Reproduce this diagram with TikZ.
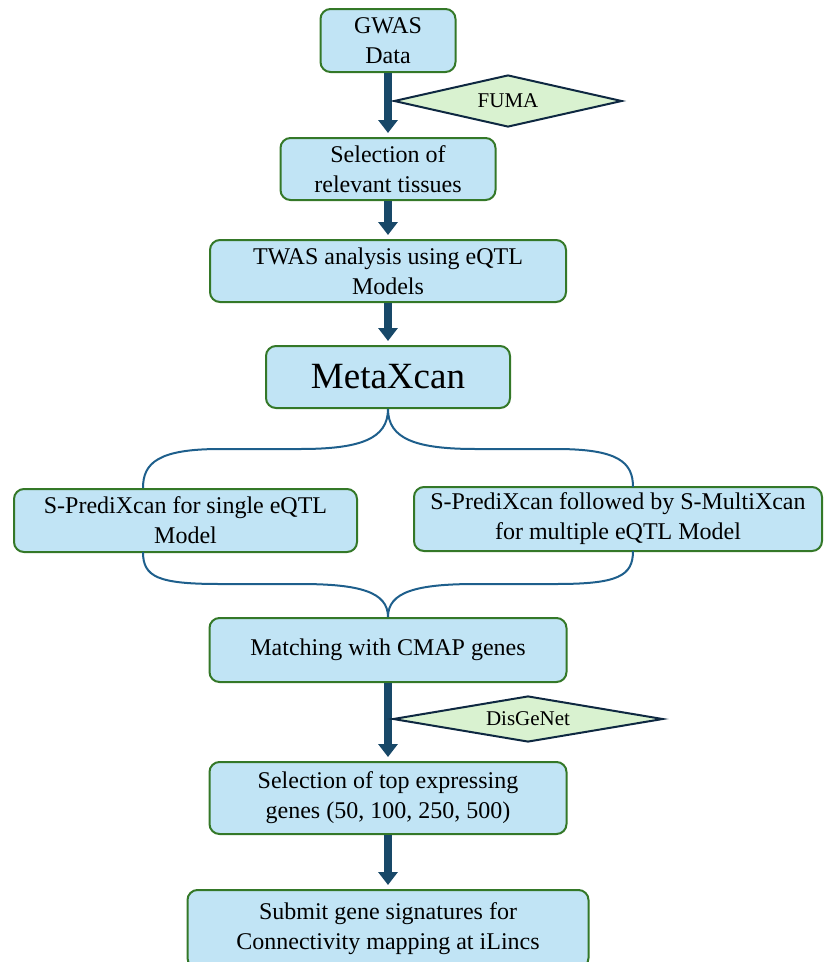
\documentclass[tikz,border=0pt]{standalone}
\usepackage{fontspec}
\setmainfont{Liberation Serif}
\usetikzlibrary{arrows.meta,shapes.geometric}

\definecolor{boxfill}{RGB}{193,228,245}
\definecolor{boxline}{RGB}{52,120,40}
\definecolor{diafill}{RGB}{217,242,208}
\definecolor{dialine}{RGB}{14,40,65}
\definecolor{arrowcol}{RGB}{24,72,104}
\definecolor{bracecol}{RGB}{30,95,140}

\begin{document}
\begin{tikzpicture}[x=1pt,y=-1pt,
    stepbox/.style={draw=boxline, fill=boxfill, line width=2pt, rounded corners=10pt,
        align=center, inner sep=0pt, font=\fontsize{24}{30}\selectfont},
    dia/.style={diamond, draw=dialine, fill=diafill, line width=2pt, inner sep=0pt,
        font=\fontsize{21}{25}\selectfont},
    flow/.style={draw=arrowcol, line width=8pt, shorten >=4pt,
        -{Triangle[width=19pt,length=13pt]}},
    brace/.style={draw=bracecol, line width=2pt}]
    \useasboundingbox (0,0) rectangle (825,962);

    % Boxes
    \node[stepbox, minimum width=135pt, minimum height=63pt] (gwas) at (388,40.5) {GWAS\\Data};
    \node[stepbox, minimum width=215pt, minimum height=62pt] (sel) at (388,169) {Selection of\\relevant tissues};
    \node[stepbox, minimum width=356pt, minimum height=62pt] (twas) at (388,271) {TWAS analysis using eQTL\\Models};
    \node[stepbox, minimum width=244pt, minimum height=62pt, font=\fontsize{37}{44}\selectfont] (meta) at (388,377) {MetaXcan};
    \node[stepbox, minimum width=343pt, minimum height=63pt] (single) at (185.5,520.5) {S-PrediXcan for single eQTL\\Model};
    \node[stepbox, minimum width=408pt, minimum height=64pt] (multi) at (618,519) {S-PrediXcan followed by S-MultiXcan\\for multiple eQTL Model};
    \node[stepbox, minimum width=357pt, minimum height=64pt] (match) at (388,650) {Matching with CMAP genes};
    \node[stepbox, minimum width=357pt, minimum height=72pt] (top) at (388,798) {Selection of top expressing\\genes (50, 100, 250, 500)};
    \node[stepbox, minimum width=401pt, minimum height=78pt] (submit) at (388,929) {Submit gene signatures for\\Connectivity mapping at iLincs};

    % Arrows
    \draw[flow] (gwas.south) -- (sel.north);
    \draw[flow] (sel.south) -- (twas.north);
    \draw[flow] (twas.south) -- (meta.north);
    \draw[flow] (match.south) -- (top.north);
    \draw[flow] (top.south) -- (submit.north);

    % Side inputs
    \node[dia, aspect=4.4, minimum width=228pt, minimum height=52pt, anchor=west] (fuma) at (393,101) {FUMA};
    \node[dia, aspect=5.9, minimum width=270pt, minimum height=46pt, anchor=west] (disg) at (392,719) {DisGeNet};

    % Braces
    \coordinate (sl) at (143,488);
    \coordinate (sr) at (633,487);
    \coordinate (bl) at (143,552);
    \coordinate (br) at (633,551);
    \draw[brace] (meta.south) .. controls +(0,30) and +(60,0) .. (300,449) -- (220,449)
        .. controls +(-62,0) and +(0,-25) .. (sl);
    \draw[brace] (meta.south) .. controls +(0,30) and +(-60,0) .. (476,449) -- (556,449)
        .. controls +(62,0) and +(0,-25) .. (sr);
    \draw[brace] (bl) .. controls +(0,25) and +(-62,0) .. (220,584) -- (300,584)
        .. controls +(60,0) and +(0,-25) .. (match.north);
    \draw[brace] (br) .. controls +(0,25) and +(62,0) .. (556,584) -- (476,584)
        .. controls +(-60,0) and +(0,-25) .. (match.north);
\end{tikzpicture}
\end{document}
